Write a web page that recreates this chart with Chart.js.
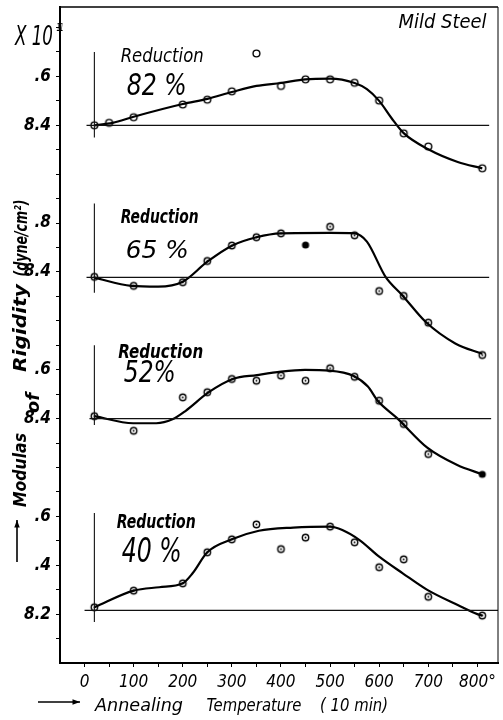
<!DOCTYPE html>
<html><head><meta charset="utf-8">
<script src="https://cdn.jsdelivr.net/npm/chart.js@4.4.1/dist/chart.umd.min.js"></script>
<style>html,body{margin:0;padding:0;background:#fff}#wrap{width:503px;height:720px;position:relative}</style>
</head><body><div id="wrap"><canvas id="c" width="503" height="720"></canvas></div>
<script>
// ---------------- DATA ----------------
// Annealing temperature (°C, 10 min) on x; modulus of rigidity (x10^11 dyne/cm²) on y
const xTickValues = [0,50,100,150,200,250,300,350,400,450,500,550,600,650,700,750,800];
const xTickLabels = {0:"0",100:"100",200:"200",300:"300",400:"400",500:"500",600:"600",700:"700",800:"800°"};
const yTickIndex = [2,4,6,10,12,16,18,22,24];
const yTickText  = ["8.2",".4",".6","8.4",".6","8.4",".8","8.4",".6"];

// Reduction 82 %
const r82PointT = [20,50,100,200,250,300,350,400,450,500,550,600,650,700,810];
const r82PointV = [8.40,8.41,8.433,8.485,8.505,8.539,8.694,8.561,8.588,8.588,8.574,8.501,8.367,8.313,8.224];
const r82CurveT = [20,57,100,200,250,300,350,400,450,500,550,575,600,625,650,700,760,810];
const r82CurveV = [8.40,8.41,8.435,8.487,8.508,8.536,8.561,8.573,8.588,8.591,8.573,8.548,8.500,8.430,8.368,8.302,8.250,8.224];

// Reduction 65 %
const r65PointT = [20,100,200,250,300,350,400,500,550,600,650,700,810];
const r65PointV = [8.36,8.286,8.316,8.49,8.616,8.684,8.716,8.77,8.70,8.244,8.204,7.985,7.72];
const r65FilledT = [450];
const r65FilledV = [8.62];
const r65CurveT = [20,95,150,200,250,300,350,400,500,550,575,613,647,695,755,810];
const r65CurveV = [8.354,8.286,8.28,8.32,8.484,8.615,8.684,8.716,8.72,8.716,8.648,8.36,8.21,7.99,7.815,7.73];

// Reduction 52 %
const r52PointT = [20,100,200,250,300,350,400,450,500,550,600,650,700];
const r52PointV = [8.41,8.35,8.487,8.508,8.562,8.555,8.576,8.555,8.606,8.571,8.473,8.378,8.255];
const r52FilledT = [810];
const r52FilledV = [8.172];
const r52CurveT = [20,99,146,179,206,253,302,351,400,449,499,548,577,597,637,698,759,810];
const r52CurveV = [8.41,8.381,8.381,8.397,8.432,8.508,8.562,8.578,8.592,8.599,8.596,8.574,8.531,8.473,8.401,8.281,8.21,8.172];

// Reduction 40 %
const r40PointT = [20,100,200,250,300,350,400,450,500,550,600,650,700,810];
const r40PointV = [8.228,8.296,8.326,8.453,8.506,8.567,8.466,8.513,8.558,8.494,8.392,8.424,8.271,8.194];
const r40CurveT = [20,100,152,200,220,250,300,355,425,500,525,560,600,648,698,760,800,810];
const r40CurveV = [8.228,8.296,8.31,8.326,8.367,8.453,8.506,8.541,8.554,8.558,8.544,8.503,8.435,8.367,8.299,8.237,8.20,8.194];

// reference (initial value) lines of each panel
const baseLineV  = [8.40, 8.355, 8.40, 8.215];
const baseLineT  = [[4,824],[4,824],[10,828],[0,842]];
const startLineT = [20,20,20,20];
const startLineV = [[8.70,8.35],[8.96,8.23],[8.70,8.374],[8.614,8.168]];

// ---------------- LAYOUT / STYLE ----------------
const UTOP = 26.84;                 // height of the plot in tick steps
const panelAxes = [                 // tick index of reference value, reference value, value per tick step
  {id:'y1', baseU:22, baseVal:8.4, perU:0.1},
  {id:'y2', baseU:16, baseVal:8.4, perU:0.2},
  {id:'y3', baseU:10, baseVal:8.4, perU:0.1},
  {id:'y4', baseU:2,  baseVal:8.2, perU:0.1}
];
const FONT = '"Liberation Sans Narrow","DejaVu Sans Condensed","Liberation Sans",sans-serif';

function marker(kind, r){
  const s = Math.ceil(r*2+4), c = document.createElement('canvas');
  c.width = s; c.height = s;
  const g = c.getContext('2d');
  g.beginPath(); g.arc(s/2, s/2, r, 0, Math.PI*2);
  if (kind === 'filled') { g.fillStyle = '#000'; g.fill(); }
  else { g.fillStyle = '#fff'; g.fill(); g.lineWidth = 1.4; g.strokeStyle = '#000'; g.stroke(); }
  if (kind === 'dot') { g.beginPath(); g.arc(s/2, s/2, 0.9, 0, Math.PI*2); g.fillStyle = '#000'; g.fill(); }
  return c;
}
const mOpen = marker('open', 3.4), mDot = marker('dot', 3.2), mFill = marker('filled', 3.6);

const pts = (T, V) => T.map((t,i)=>({x:t, y:V[i]}));
const datasets = [];
panelAxes.forEach((p,i)=>{
  datasets.push({type:'line', data:[{x:baseLineT[i][0],y:baseLineV[i]},{x:baseLineT[i][1],y:baseLineV[i]}],
    yAxisID:p.id, borderColor:'#111', borderWidth:1.2, pointRadius:0});
  datasets.push({type:'line', data:[{x:startLineT[i],y:startLineV[i][0]},{x:startLineT[i],y:startLineV[i][1]}],
    yAxisID:p.id, borderColor:'#111', borderWidth:1.1, pointRadius:0});
});
const curves = [[r82CurveT,r82CurveV,'y1'],[r65CurveT,r65CurveV,'y2'],[r52CurveT,r52CurveV,'y3'],[r40CurveT,r40CurveV,'y4']];
curves.forEach(c=>datasets.push({type:'line', data:pts(c[0],c[1]), yAxisID:c[2], borderColor:'#000',
  borderWidth:2.2, pointRadius:0, cubicInterpolationMode:'monotone'}));
const points = [
  [r82PointT,r82PointV,'y1',mOpen],[r65PointT,r65PointV,'y2',mDot],[r65FilledT,r65FilledV,'y2',mFill],
  [r52PointT,r52PointV,'y3',mDot],[r52FilledT,r52FilledV,'y3',mFill],[r40PointT,r40PointV,'y4',mDot]];
points.forEach(p=>datasets.push({type:'scatter', data:pts(p[0],p[1]), yAxisID:p[2], pointStyle:p[3],
  pointRadius:4, showLine:false}));

const scales = {
  x:{type:'linear', min:-50, max:842, position:'bottom',
     afterBuildTicks:s=>{ s.ticks = xTickValues.map(v=>({value:v})); },
     afterFit:s=>{ s.height = 57; s.paddingLeft = 0; s.paddingRight = 0; },
     ticks:{autoSkip:false, maxRotation:0, minRotation:0, padding:5, color:'#000',
       font:{family:FONT, size:17, style:'italic'}, callback:v=>xTickLabels[v] ?? ''},
     grid:{drawOnChartArea:false, drawTicks:true, tickLength:4, color:'#000', lineWidth:1},
     border:{display:true, color:'#000', width:2}},
  y:{type:'linear', min:0, max:UTOP, position:'left',
     afterBuildTicks:s=>{ const t=[]; for(let u=1;u<=26;u++) t.push({value:u}); s.ticks=t; },
     afterFit:s=>{ s.width = 60; s.paddingTop = 0; s.paddingBottom = 0; },
     ticks:{autoSkip:false, padding:5, color:'#000', font:{family:FONT, size:17, style:'italic', weight:'bold'},
       callback:v=>{ const k = yTickIndex.indexOf(v); return k>=0 ? yTickText[k] : ''; }},
     grid:{drawOnChartArea:false, drawTicks:true, tickLength:4, color:'#000', lineWidth:1},
     border:{display:true, color:'#000', width:2}}
};
panelAxes.forEach(p=>{ scales[p.id] = {type:'linear', display:false,
  min:p.baseVal - p.baseU*p.perU, max:p.baseVal + (UTOP - p.baseU)*p.perU}; });

// text annotations placed in (temperature, tick-step) coordinates
const notes = [
  {t:"Reduction", T:158, u:24.88, w:83, size:20, bold:false},
  {t:"82 %", T:147, u:23.71, w:60, size:31, bold:false},
  {t:"Reduction", T:153, u:18.29, w:78, size:19, bold:true},
  {t:"65 %", T:148, u:16.94, w:63, size:25, bold:false},
  {t:"Reduction", T:155, u:12.77, w:85, size:20, bold:true},
  {t:"52%", T:133, u:11.95, w:52, size:30, bold:false},
  {t:"Reduction", T:146, u:5.83, w:79, size:20, bold:true},
  {t:"40 %", T:137, u:4.64, w:60, size:34, bold:false},
  {t:"Mild Steel", T:729, u:26.29, w:88, size:20, bold:false}
];

function fitText(ctx, text, cx, cy, w, size, bold, rot){
  ctx.save();
  ctx.font = 'italic ' + (bold?'bold ':'') + size + 'px ' + FONT;
  const m = ctx.measureText(text).width;
  ctx.translate(cx, cy);
  if (rot) ctx.rotate(rot);
  ctx.scale(w/m, 1);
  ctx.fillStyle = '#000'; ctx.textAlign = 'center'; ctx.textBaseline = 'alphabetic';
  ctx.fillText(text, 0, size*0.36);
  ctx.restore();
}
function arrow(ctx, x0, y0, x1, y1){
  ctx.save(); ctx.strokeStyle='#000'; ctx.fillStyle='#000'; ctx.lineWidth=1.6;
  ctx.beginPath(); ctx.moveTo(x0,y0); ctx.lineTo(x1,y1); ctx.stroke();
  const a = Math.atan2(y1-y0, x1-x0), L = 8;
  ctx.beginPath(); ctx.moveTo(x1,y1);
  ctx.lineTo(x1 - L*Math.cos(a-0.35), y1 - L*Math.sin(a-0.35));
  ctx.lineTo(x1 - L*Math.cos(a+0.35), y1 - L*Math.sin(a+0.35));
  ctx.closePath(); ctx.fill(); ctx.restore();
}

const textPlugin = {
  id:'texts',
  afterDraw(chart){
    const ctx = chart.ctx, a = chart.chartArea, sx = chart.scales.x, sy = chart.scales.y;
    // frame top and right
    ctx.save(); ctx.strokeStyle='#000'; ctx.lineWidth=1.6;
    ctx.beginPath(); ctx.moveTo(a.left, a.top); ctx.lineTo(a.right, a.top); ctx.stroke();
    ctx.lineWidth=1; ctx.beginPath(); ctx.moveTo(a.right, a.top); ctx.lineTo(a.right, a.bottom); ctx.stroke();
    ctx.restore();
    notes.forEach(n=>fitText(ctx, n.t, sx.getPixelForValue(n.T), sy.getPixelForValue(n.u), n.w, n.size, n.bold));
    // unit label x 10^11
    fitText(ctx, "X 10", a.left-26, a.top+28, 38, 27, false);
    fitText(ctx, "11", a.left+0, a.top+20, 7, 10, false);
    // y title (rotated)
    const L = a.left;
    fitText(ctx, "(dyne/cm²)", L-39, 238, 77, 17, true, -Math.PI/2);
    fitText(ctx, "Rigidity", L-40, 328, 88, 18, true, -Math.PI/2);
    fitText(ctx, "of", L-27, 403, 20, 18, true, -Math.PI/2);
    fitText(ctx, "Modulas", L-40, 470, 74, 18, true, -Math.PI/2);
    arrow(ctx, L-43, 562, L-43, 520);
    // x title
    const B = a.bottom;
    arrow(ctx, 38, B+39, 80, B+39);
    fitText(ctx, "Annealing", 139, B+42, 88, 18, false);
    fitText(ctx, "Temperature", 254, B+42, 95, 18, false);
    fitText(ctx, "( 10 min)", 354, B+42, 68, 17, false);
  }
};

new Chart(document.getElementById('c'), {
  data:{datasets},
  options:{responsive:false, animation:false, devicePixelRatio:1,
    layout:{padding:{left:0, right:1, top:7, bottom:0}},
    plugins:{legend:{display:false}, tooltip:{enabled:false}, title:{display:false}},
    scales},
  plugins:[textPlugin]
});
</script>
</body></html>
